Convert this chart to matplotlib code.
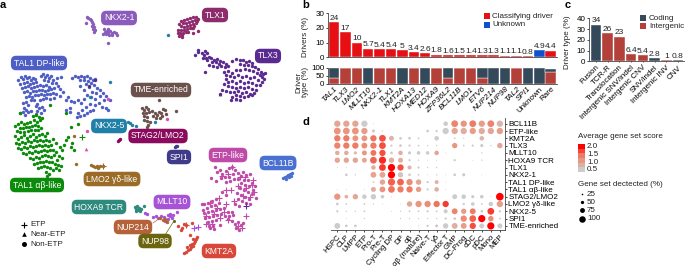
import matplotlib
matplotlib.use('Agg')
import matplotlib.pyplot as plt
import numpy as np
from matplotlib.colors import LinearSegmentedColormap

plt.rcParams['font.family'] = ['Liberation Sans', 'DejaVu Sans']
plt.rcParams['font.size'] = 5.8
plt.rcParams['text.color'] = '#222222'
plt.rcParams['axes.edgecolor'] = '#444444'
plt.rcParams['axes.linewidth'] = 0.6
plt.rcParams['xtick.major.size'] = 1.5
plt.rcParams['ytick.major.size'] = 1.5
plt.rcParams['xtick.major.width'] = 0.5
plt.rcParams['ytick.major.width'] = 0.5
plt.rcParams['xtick.major.pad'] = 1
plt.rcParams['ytick.major.pad'] = 1

W, H = 685, 266

# panel a: embedding positions
nkx21 = [(87,17),(88,18),(90,19),(91,20),(92,22),(93,24),(92,26),(94,27),(93,29),(95,30),(94,32),(86,23),(104,29),(105,32),(107,31),(108,33),(110,31),(112,33),(114,32),(116,33),(117,35),(112,35),(109,35),(106,34),(108,29),(103,34),(108,43)]
tlx1 = [(181,21),(184,20),(187,19),(190,18),(193,17),(196,17),(183,23),(186,23),(189,22),(192,21),(195,20),(198,19),(179,24),(187,26),(190,25),(193,24),(196,23),(181,26),(184,27),(178,30),(181,30),(184,30),(187,29),(190,28),(193,28),(180,33),(183,33),(186,32),(179,36),(182,35),(188,32),(193,33),(198,31),(192,28),(194,26),(197,21),(182,37),(178,33)]
tlx3 = [(195,55),(198,52),(198,50),(202,53),(205,51),(204,55),(207,53),(203,58),(206,58),(209,57),(207,60),(211,58),(214,60),(217,59),(212,62),(216,62),(220,61),(219,64),(223,62),(226,64),(209,65),(213,66),(217,67),(221,66),(225,67),(228,66),(232,61),(236,59),(240,60),(243,60),(246,62),(249,61),(252,63),(240,64),(244,65),(248,65),(252,66),(255,67),(258,69),(261,72),(263,74),(265,73),(236,70),(240,70),(245,69),(249,70),(253,71),(257,73),(260,75),(262,77),(264,79),(224,72),(228,71),(232,73),(226,75),(230,76),(234,77),(238,75),(242,77),(246,76),(250,78),(254,77),(258,80),(262,82),(205,72),(226,79),(228,82),(232,81),(236,83),(240,81),(244,83),(248,82),(252,83),(256,85),(260,85),(224,84),(228,86),(232,87),(236,88),(240,87),(244,88),(248,87),(252,89),(256,90),(222,90),(226,91),(230,92),(234,92),(238,91),(242,93),(246,92),(250,94),(254,93),(236,95),(240,96),(244,97),(248,96),(252,95),(232,97),(236,99),(231,100),(240,100),(220,94)]
tal1_dp = [(18,80),(21,77),(23,79),(25,76),(27,78),(29,77),(31,80),(33,78),(35,79),(20,84),(24,83),(27,82),(30,84),(33,83),(36,82),(41,76),(43,74),(45,77),(47,75),(49,78),(51,76),(53,80),(57,78),(61,77),(44,80),(48,81),(52,83),(56,83),(22,88),(25,87),(28,86),(31,88),(34,87),(37,86),(40,85),(43,86),(46,85),(49,87),(24,92),(27,91),(30,93),(33,91),(36,91),(39,90),(42,90),(45,91),(48,90),(51,89),(54,88),(58,86),(60,89),(63,92),(26,97),(29,96),(32,97),(35,95),(38,95),(41,94),(44,95),(47,94),(50,94),(53,93),(56,94),(60,96),(23,103),(26,102),(24,108),(28,105),(31,100),(34,100),(37,104),(40,100),(43,99),(46,98),(50,99),(54,98),(66,100),(68,97),(71,101),(74,102),(78,100),(81,103),(84,99),(75,76),(78,77),(81,76),(84,77),(87,76),(90,78),(93,80),(80,80),(84,80),(88,81),(91,83),(95,79),(72,78),(86,84),(89,87),(94,85),(97,88),(100,90),(103,93),(106,96),(92,92),(96,93),(100,96),(104,100),(84,90),(80,86),(87,95),(91,97),(95,99),(99,103),(102,107),(106,108),(108,110),(110,100),(95,105),(90,104),(86,107),(82,110),(78,113),(80,116),(84,115),(87,113),(90,111),(93,110),(77,117),(70,108),(66,110),(70,112),(36,106),(39,108),(37,111),(42,107),(44,110),(41,113),(36,114),(26,110),(23,112),(20,113),(25,115),(28,112),(31,111)]
tal1_ab = [(15,126),(18,124),(21,122),(24,124),(27,123),(30,122),(33,116),(36,115),(39,117),(34,120),(37,122),(40,120),(42,118),(20,128),(23,128),(26,127),(29,127),(32,126),(35,125),(38,126),(17,131),(20,132),(24,132),(28,131),(31,130),(35,130),(38,130),(41,128),(71,127),(78,124),(50,105),(66,113),(20,113),(15,136),(18,139),(21,137),(24,135),(27,138),(30,136),(33,134),(36,137),(39,135),(42,134),(45,136),(47,133),(16,143),(19,144),(22,142),(25,143),(28,141),(31,142),(34,140),(37,141),(40,140),(43,141),(46,140),(49,141),(53,139),(18,148),(21,149),(24,147),(27,148),(30,146),(33,147),(36,146),(39,145),(42,146),(45,145),(48,146),(51,145),(56,143),(60,147),(66,140),(68,137),(72,143),(74,150),(62,150),(64,145),(71,147),(23,153),(26,154),(29,152),(32,153),(35,151),(38,152),(41,151),(44,150),(47,151),(50,150),(53,150),(56,152),(59,156),(62,158),(30,158),(33,159),(36,157),(39,158),(42,156),(45,155),(48,156),(51,157),(54,155),(57,160),(34,164),(37,163),(40,162),(43,162),(46,161),(49,162),(52,162),(55,164),(58,165),(38,168),(41,167),(44,166),(47,167),(50,168),(53,170),(56,168),(46,172),(49,174),(47,176),(61,166),(59,170)]
etp_dots = [(215,167),(220,170),(217,172),(222,174),(226,171),(229,168),(232,167),(235,170),(233,174),(229,177),(225,177),(221,178),(238,173),(241,176),(238,179),(234,179),(230,181),(243,172),(246,175),(250,174),(211,178),(216,181),(226,182),(244,180),(248,180),(252,183),(255,186),(241,183),(245,185),(249,186),(253,190),(240,188),(244,190),(248,192),(252,194),(256,198),(237,193),(241,195),(245,197),(249,199),(238,199),(242,201),(246,203),(250,204),(235,204),(239,206),(222,192),(226,195),(212,201),(216,199),(208,203),(204,204),(207,208),(211,206),(215,205),(219,203),(204,213),(208,212),(212,211),(216,210),(220,209),(224,208),(228,212),(232,212),(205,218),(209,217),(213,216),(217,215),(221,214),(225,216),(229,216),(233,215),(208,222),(212,221),(216,220),(220,225),(228,219),(232,221),(235,224),(238,222),(241,225),(236,228),(239,230),(243,223),(213,226),(209,226),(210,228),(214,229),(202,204),(203,210)]
etp_plus = [(232,167),(222,176),(228,174),(240,177),(245,177),(252,185),(253,180),(238,186),(246,188),(254,192),(250,197),(243,196),(234,201),(226,190),(231,190),(219,198),(226,204),(210,203),(217,208),(224,212),(214,214),(206,216),(220,218),(228,220),(212,224),(206,224),(238,226),(242,228),(246,216)]
kmt2a = [(184,253),(186,252),(188,250),(190,249),(191,247),(193,246),(192,244),(194,243),(195,241),(196,239),(197,237),(193,239),(190,245),(187,247),(178,226),(184,224),(182,228),(181,230),(186,225),(192,223),(190,235)]
mllt10 = [(165,221),(168,219),(170,216),(173,215),(177,212),(172,218),(153,217),(156,216),(158,218),(161,216),(164,217),(168,215),(170,214),(145,213),(147,214)]
nup214 = [(160,218),(163,220),(165,219),(167,222),(166,221)]
hoxa9 = [(135,207),(136,209),(137,206),(138,210),(139,208),(140,211),(141,209),(136,211),(144,206)]
lmo2 = [(91,165),(93,166),(95,167),(97,166),(98,168),(100,166),(103,166),(76,164),(74,136)]
tme = [(142,108),(144,110),(146,107),(148,109),(143,113),(146,113),(149,112),(144,116),(147,117),(144,120),(147,121),(150,122),(153,116),(155,113),(157,115),(159,112),(152,111),(161,113),(163,109),(165,110),(162,116),(166,114),(156,118),(148,125),(147,127),(159,100),(160,118),(176,111)]
nkx25 = [(128,122),(130,123),(132,125),(136,126),(110,82),(168,35),(90,97),(155,122)]
stag2 = [(119,140),(120,139),(118,141)]
spi1 = [(176,146),(175,147),(177,146)]
bcl11b = [(283,178),(285,177),(287,176),(288,175),(290,174),(292,173),(289,177),(286,179),(291,176)]
pink_dots = [(108,99),(167,119),(87,131)]
dark_purple = [(95,80),(89,86)]

# panel b
driver_names = ['TAL1', 'TLX3', 'LMO2', 'MLLT10', 'NKX2-1', 'TLX1', 'KMT2A', 'HOXA13', 'MED12', 'HOXA9',
                'ZFP36L2', 'BCL11B', 'LMO1', 'ETV6', 'NUP214', 'NUP98', 'TAL2', 'SPI1', 'Unknown', 'Rare']
driver_pct = [24, 17, 10, 5.7, 5.4, 5.4, 5, 3.4, 2.6, 1.8, 1.6, 1.5, 1.4, 1.3, 1.3, 1.1, 1.1, 0.8, 4.9, 4.4]
driver_labels = ['24', '17', '10', '5.7', '5.4', '5.4', '5', '3.4', '2.6', '1.8', '1.6', '1.5', '1.4', '1.3', '1.3',
                 '1.1', '1.1', '0.8', '4.9', '4.4']
intergenic_share = [33, 100, 100, 0, 100, 100, 0, 100, 0, 100, 35, 100, 100, 35, 0, 0, 100, 0, 0, 75]
coding_share = [67, 0, 0, 100, 0, 0, 100, 0, 100, 0, 65, 0, 0, 65, 100, 100, 0, 100, 100, 20]

# panel c
type_names = ['Fusion', 'TCR-R', 'Translocation', 'Intergenic SNV/indel', 'Intergenic CNV', 'SNV/indel',
              'Intergenic INV', 'CNV']
type_pct = [34, 26, 23, 6.4, 5.4, 2.8, 1, 0.8]
type_labels = ['34', '26', '23', '6.4', '5.4', '2.8', '1', '0.8']
type_coding = [True, False, False, False, False, True, False, True]

# panel d
cell_types = ['HSPC', 'CLP', 'LMPP', 'ETP', 'Pro-T', 'Pre-T', 'Cycling DP', 'DP', 'αβ', 'αβ (mature)', 'Naive-T', 'γδ',
              'Effector T', 'GMP', 'DC-Prog', 'cDC', 'pDC', 'Mono', 'MEP']
subtypes = ['BCL11B', 'ETP-like', 'KMT2A', 'TLX3', 'MLLT10', 'HOXA9 TCR', 'TLX1', 'NKX2-1', 'TAL1 DP-like',
            'TAL1 αβ-like', 'STAG2/LMO2', 'LMO2 γδ-like', 'NKX2-5', 'SPI1', 'TME-enriched']
detected = [
    [70, 70, 70, 70, 10, 0, 0, 0, 0, 0, 0, 0, 50, 75, 70, 75, 70, 75, 70],
    [75, 75, 75, 70, 35, 15, 0, 0, 0, 0, 30, 25, 70, 70, 70, 70, 70, 70, 70],
    [70, 70, 65, 65, 70, 75, 55, 30, 30, 20, 0, 50, 0, 20, 15, 0, 50, 0, 0],
    [70, 70, 70, 65, 70, 75, 25, 30, 25, 20, 15, 15, 0, 60, 20, 25, 35, 15, 60],
    [50, 50, 35, 55, 65, 70, 30, 50, 35, 40, 40, 50, 10, 0, 0, 0, 15, 0, 0],
    [60, 60, 60, 55, 75, 80, 60, 55, 25, 15, 10, 10, 0, 25, 0, 10, 15, 0, 0],
    [10, 10, 0, 0, 50, 75, 80, 70, 45, 25, 15, 15, 0, 0, 0, 0, 0, 0, 0],
    [0, 30, 15, 0, 65, 65, 80, 60, 30, 20, 10, 15, 10, 30, 35, 0, 10, 0, 0],
    [0, 0, 0, 0, 20, 60, 80, 75, 70, 60, 25, 45, 10, 0, 0, 0, 0, 0, 0],
    [10, 10, 0, 10, 55, 65, 75, 70, 70, 60, 25, 50, 10, 0, 0, 0, 0, 0, 0],
    [70, 40, 60, 50, 60, 40, 10, 0, 0, 0, 0, 0, 0, 55, 50, 35, 40, 10, 85],
    [30, 20, 0, 20, 15, 10, 0, 10, 60, 70, 70, 70, 70, 0, 25, 40, 20, 50, 70],
    [25, 15, 15, 20, 0, 0, 10, 15, 20, 20, 25, 20, 45, 65, 60, 65, 30, 75, 25],
    [0, 10, 0, 15, 0, 0, 0, 15, 15, 15, 15, 15, 25, 30, 70, 75, 80, 60, 20],
    [65, 30, 30, 0, 0, 0, 0, 0, 0, 10, 25, 30, 60, 65, 65, 70, 55, 80, 55],
]
score = [
    [1.0, 1.0, 1.0, 0.5, 0.5, 0, 0, 0, 0, 0, 0, 0, 0.5, 1.4, 1.2, 1.5, 1.1, 1.4, 0.8],
    [1.2, 1.2, 1.2, 1.1, 0.5, 0.5, 0, 0, 0, 0, 0.5, 0.5, 0.5, 1.0, 0.9, 1.1, 0.9, 1.0, 1.1],
    [1.5, 1.5, 1.2, 1.2, 1.6, 1.8, 0.8, 0.5, 0.5, 0.5, 0, 0.5, 0, 0.5, 0.5, 0, 0.8, 0, 0],
    [1.4, 1.5, 1.5, 1.3, 1.5, 1.8, 0.5, 0.5, 0.5, 0.5, 0.5, 0.5, 0, 1.2, 0.5, 0.5, 0.5, 0.5, 1.0],
    [0.9, 0.9, 0.7, 1.2, 1.6, 1.8, 0.5, 0.9, 0.5, 0.5, 0.5, 1.0, 0.5, 0, 0, 0, 0.5, 0, 0],
    [1.0, 1.0, 1.0, 1.0, 1.7, 2.0, 0.9, 0.9, 0.5, 0.5, 0.5, 0.5, 0, 0.5, 0, 0.5, 0.5, 0, 0],
    [0.5, 0.5, 0, 0, 0.9, 1.9, 2.2, 1.8, 0.8, 0.5, 0.5, 0.5, 0, 0, 0, 0, 0, 0, 0],
    [0, 0.5, 0.5, 0, 1.0, 1.0, 2.2, 0.6, 0.5, 0.5, 0.5, 0.5, 0.5, 0.5, 0.5, 0, 0.5, 0, 0],
    [0, 0, 0, 0, 0.5, 1.0, 1.7, 1.7, 1.3, 1.0, 0.5, 0.8, 0.5, 0, 0, 0, 0, 0, 0],
    [0.5, 0.5, 0, 0.5, 0.9, 1.2, 1.6, 1.5, 1.5, 1.1, 0.5, 0.9, 0.5, 0, 0, 0, 0, 0, 0],
    [1.2, 0.9, 1.0, 0.5, 0.5, 0.5, 0.5, 0, 0, 0, 0, 0, 0, 0.5, 0.5, 0.5, 0.5, 0.5, 2.2],
    [0.5, 0.5, 0, 0.5, 0.5, 0.5, 0, 0.5, 1.0, 1.2, 1.3, 1.6, 1.9, 0, 0.5, 0.5, 0.5, 0.5, 1.1],
    [0.5, 0.5, 0.5, 0.5, 0, 0, 0.5, 0.5, 0.5, 0.5, 0.5, 0.5, 0.5, 1.4, 1.1, 1.5, 0.5, 1.9, 0.5],
    [0, 0.5, 0, 0.5, 0, 0, 0, 0.5, 0.5, 0.5, 0.5, 0.5, 0.5, 0.5, 1.3, 1.7, 2.2, 1.3, 0.5],
    [0.5, 0.5, 0.5, 0, 0, 0, 0, 0, 0, 0.5, 0.5, 0.7, 0.5, 0.9, 1.1, 1.8, 0.5, 2.2, 0.5],
]
size_legend = [25, 50, 75, 100]
score_legend = [2.0, 1.5, 1.0, 0.5]

RED = '#e60f14'
BLUE = '#0f50cf'
CODING = '#34495a'
INTERGENIC = '#b4403a'
score_cmap = LinearSegmentedColormap.from_list('score', ['#cccccc', '#e8a08c', '#f0705a', '#ff0000'])


def px_axes(fig, left, top, right, bottom):
    return fig.add_axes([left / W, 1 - bottom / H, (right - left) / W, (bottom - top) / H])


def dot_size(pct, k=0.09):
    # diameter in px -> area in points^2
    return (np.asarray(pct) * k * 0.72) ** 2


fig = plt.figure(figsize=(W / 100, H / 100), dpi=100, facecolor='white')

# a, also carries the loose texts and legends so it sits on top
ax = px_axes(fig, 0, 0, W, H)
ax.set_xlim(0, W)
ax.set_ylim(H, 0)
ax.axis('off')
ax.set_zorder(10)

clusters = [
    (tal1_dp, '#4f5ec4'), (tal1_ab, '#0b8a0b'), (nkx21, '#8a5cbc'), (tlx1, '#8e2b6c'), (tlx3, '#5a2a90'),
    (etp_dots, '#bf4aa8'), (kmt2a, '#d8483a'), (mllt10, '#a653d6'), (nup214, '#b5623a'), (hoxa9, '#2f8a7e'),
    (lmo2, '#9a6c28'), (tme, '#6b504c'), (nkx25, '#1f80a8'), (stag2, '#8a0a5e'), (spi1, '#3f3a8a'),
    (bcl11b, '#4a70d2'), (pink_dots, '#d84fb0'), (dark_purple, '#5a2a90'),
]
for pts, col in clusters:
    ax.scatter([p[0] for p in pts], [p[1] for p in pts], s=6, color=col, linewidths=0)
ax.scatter([p[0] for p in etp_plus], [p[1] for p in etp_plus], s=16, marker='+', color='#bf4aa8', linewidths=0.8)
ax.scatter([198, 246, 194], [227, 206, 228], s=16, marker='+', color=['#a653d6', '#5a2a90', '#a653d6'], linewidths=0.8)
ax.scatter([186, 103, 82], [225, 166, 137], s=16, marker='+', color=['#d8483a', '#9a6c28', '#0b8a0b'], linewidths=0.8)
ax.scatter([86], [149], s=7, marker='^', color='#d84fb0', linewidths=0)
ax.scatter([220, 236], [94, 99], s=7, marker='^', color='#5a2a90', linewidths=0)

box_labels = [
    ('NKX2-1', 119, 18, '#8a5cbc'), ('TLX1', 215, 15, '#8e2b6c'), ('TLX3', 268, 56, '#5a2a90'),
    ('TAL1 DP-like', 39, 63, '#4f5ec4'), ('TME-enriched', 161, 90, '#6b504c'), ('NKX2-5', 109, 126, '#1f80a8'),
    ('STAG2/LMO2', 158, 136, '#8a0a5e'), ('SPI1', 179, 157, '#3f3a8a'), ('ETP-like', 228, 155, '#bf4aa8'),
    ('BCL11B', 278, 163, '#4a70d2'), ('LMO2 γδ-like', 112, 179, '#9a6c28'), ('TAL1 αβ-like', 37, 185, '#0b8a0b'),
    ('HOXA9 TCR', 99, 207, '#2f8a7e'), ('MLLT10', 172, 202, '#a653d6'), ('NUP214', 133, 227, '#b5623a'),
    ('NUP98', 155, 241, '#6b6510'), ('KMT2A', 219, 251, '#d8483a'),
]
ax.plot([153, 160], [223, 218], color='#b5623a', lw=0.5)
ax.plot([165, 174], [235, 221], color='#6b6510', lw=0.5)
ax.scatter([174], [221], s=5, color='#6b6510', linewidths=0)
for txt, x, y, col in box_labels:
    ax.text(x, y, txt, color='white', fontsize=6.2, ha='center', va='center',
            bbox=dict(boxstyle='round,pad=0.32,rounding_size=0.6', fc=col, ec='none'))

ax.scatter([24], [225], s=16, marker='+', color='black', linewidths=0.8)
ax.scatter([24], [234], s=11, marker='^', color='black', linewidths=0)
ax.scatter([24], [244], s=13, marker='o', color='black', linewidths=0)
for txt, y in [('ETP', 225), ('Near-ETP', 234.5), ('Non-ETP', 244)]:
    ax.text(30, y, txt, va='center')

for txt, x, y in [('a', 3, 5), ('b', 306, 5), ('c', 568, 5), ('d', 306, 122)]:
    ax.text(x, y, txt, fontsize=8, fontweight='bold', color='black', ha='center', va='center')
ax.text(306, 37, 'Drivers (%)', rotation=90, ha='center', va='center')
ax.text(302, 82, 'Driver\ntype (%)', rotation=90, ha='center', va='center', linespacing=0.95)
ax.text(568, 42, 'Driver type (%)', rotation=90, ha='center', va='center')

# b
b_x = np.arange(len(driver_names))
b_left, b_right = 328, 557
b_lim = ((b_left - 334) / 11.405, (b_right - 334) / 11.405)
ax_b = px_axes(fig, b_left, 13.3, b_right, 57.3)
b_cols = [BLUE if n == 'Unknown' else RED for n in driver_names]
ax_b.bar(b_x, driver_pct, width=0.92, color=b_cols, edgecolor='white', linewidth=0.3)
for i, t in enumerate(driver_labels):
    ax_b.text(i, driver_pct[i] + 0.3, t, ha='center', va='bottom', fontsize=6, clip_on=False)
ax_b.set_xlim(*b_lim)
ax_b.set_ylim(0, 30)
ax_b.set_yticks([0, 10, 20, 30])
ax_b.set_xticks([])
for s in ['top', 'right']:
    ax_b.spines[s].set_visible(False)

ax_b2 = px_axes(fig, b_left, 68, b_right, 83.5)
ax_b2.bar(b_x, intergenic_share, width=0.92, color=INTERGENIC, edgecolor='white', linewidth=0.3)
ax_b2.bar(b_x, coding_share, bottom=intergenic_share, width=0.92, color=CODING, edgecolor='white', linewidth=0.3)
ax_b2.set_xlim(*b_lim)
ax_b2.set_ylim(0, 100)
ax_b2.set_yticks([0, 50, 100])
ax_b2.tick_params(axis='x', length=0, pad=1.5)
ax_b2.set_xticks(b_x)
ax_b2.set_xticklabels(driver_names, rotation=45, ha='right', rotation_mode='anchor')
for lab in ax_b2.get_xticklabels():
    if lab.get_text() not in ('Unknown', 'Rare'):
        lab.set_fontstyle('italic')
for s in ['top', 'right']:
    ax_b2.spines[s].set_visible(False)

ax.scatter([487, 487], [16, 25], s=22, marker='s', color=[RED, BLUE], linewidths=0)
ax.text(492, 16, 'Classifying driver', va='center')
ax.text(492, 25, 'Unknown', va='center')

# c
c_x = np.arange(len(type_names))
ax_c = px_axes(fig, 589, 18.3, 684, 61.3)
c_cols = [CODING if c else INTERGENIC for c in type_coding]
ax_c.bar(c_x, type_pct, width=0.9, color=c_cols, edgecolor='white', linewidth=0.3)
for i, t in enumerate(type_labels):
    ax_c.text(i, type_pct[i] + 0.5, t, ha='center', va='bottom', fontsize=6, clip_on=False)
ax_c.set_xlim((589 - 596) / 11.71, (684 - 596) / 11.71)
ax_c.set_ylim(0, 40)
ax_c.set_yticks([0, 10, 20, 30, 40])
ax_c.set_xticks(c_x)
ax_c.set_xticklabels(type_names, rotation=45, ha='right', rotation_mode='anchor')
ax_c.tick_params(axis='x', length=1)
for s in ['top', 'right']:
    ax_c.spines[s].set_visible(False)

ax.scatter([643, 643], [18, 26], s=22, marker='s', color=[CODING, INTERGENIC], linewidths=0)
ax.text(649, 18, 'Coding', va='center')
ax.text(649, 26, 'Intergenic', va='center')

# d
ax_d = px_axes(fig, 331, 118, 505, 230)
det = np.array(detected, dtype=float)
sco = np.array(score, dtype=float)
xx, yy = np.meshgrid(np.arange(len(cell_types)), np.arange(len(subtypes)))
keep = det > 0
ax_d.scatter(xx[keep], yy[keep], s=dot_size(det[keep]), c=sco[keep], cmap=score_cmap, vmin=0.5, vmax=2.2, linewidths=0)
ax_d.set_xlim((331 - 337.3) / 9.03, (505 - 337.3) / 9.03)
ax_d.set_ylim((230 - 123.7) / 7.3, (118 - 123.7) / 7.3)
ax_d.set_xticks(np.arange(len(cell_types)))
ax_d.set_xticklabels(cell_types, rotation=48, ha='right', rotation_mode='anchor', fontsize=5.6)
ax_d.yaxis.tick_right()
ax_d.set_yticks(np.arange(len(subtypes)))
ax_d.set_yticklabels(subtypes)
for s in ['top', 'left']:
    ax_d.spines[s].set_visible(False)

ax.text(578, 136, 'Average gene set score', va='center')
ax.text(578, 184, 'Gene set dectected (%)', va='center')
ax_cb = px_axes(fig, 578, 144, 585, 172)
ax_cb.imshow(np.linspace(1, 0, 6).reshape(-1, 1), cmap=score_cmap, aspect='auto')
ax_cb.axis('off')
for val, y in zip(score_legend, [147, 154.5, 162, 169.5]):
    ax.text(587, y, f'{val:.1f}', va='center')
for pct, y in zip(size_legend, [194, 202, 210, 219]):
    ax.scatter([582], [y], s=dot_size(pct, 0.065), color='black', linewidths=0)
    ax.text(587, y, str(pct), va='center')

fig.savefig('out.png', dpi=100)
